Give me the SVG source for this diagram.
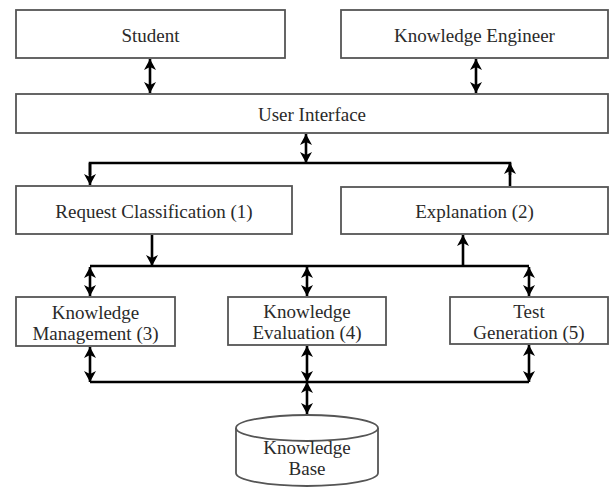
<svg xmlns="http://www.w3.org/2000/svg" width="613" height="487" viewBox="0 0 613 487">
<style>
.box{fill:#fff;stroke:#555;stroke-width:1.8}
.t{font-family:"Liberation Serif","Times New Roman","DejaVu Serif",serif;font-size:19px;fill:#2a2a2a;text-anchor:middle}
.c{fill:none;stroke:#000;stroke-width:2.6}
.a1{marker-end:url(#ah)}
.a2{marker-end:url(#ah);marker-start:url(#ah)}
</style>
<defs>
<marker id="ah" viewBox="0 0 11 12" refX="11" refY="6" markerWidth="11" markerHeight="12" markerUnits="userSpaceOnUse" orient="auto-start-reverse">
<path d="M0,0 L11,6 L0,12 L3,6 z" fill="#000"/>
</marker>
</defs>
<rect width="613" height="487" fill="#fff"/>
<g id="student"><rect class="box" x="16" y="10" width="269" height="48"/><text class="t" x="150.5" y="42">Student</text></g>
<g id="knowledge-engineer"><rect class="box" x="341" y="10" width="267" height="48"/><text class="t" x="474.5" y="42">Knowledge Engineer</text></g>
<g id="user-interface"><rect class="box" x="16" y="94" width="592" height="39"/><text class="t" x="312" y="121">User Interface</text></g>
<g id="request-classification"><rect class="box" x="16" y="186" width="276" height="48"/><text class="t" x="154" y="218">Request Classification (1)</text></g>
<g id="explanation"><rect class="box" x="341" y="187" width="267" height="47"/><text class="t" x="474.5" y="218">Explanation (2)</text></g>
<g id="knowledge-management"><rect class="box" x="16" y="297" width="159" height="49"/><text class="t" x="95.5" y="319">Knowledge</text><text class="t" x="95.5" y="340">Management (3)</text></g>
<g id="knowledge-evaluation"><rect class="box" x="228" y="297" width="158" height="48"/><text class="t" x="307" y="318">Knowledge</text><text class="t" x="307" y="339">Evaluation (4)</text></g>
<g id="test-generation"><rect class="box" x="450" y="297" width="158" height="47"/><text class="t" x="529" y="318">Test</text><text class="t" x="529" y="339">Generation (5)</text></g>
<g id="knowledge-base">
<path class="box" d="M236,428 L236,473 A71,13 0 0 0 378,473 L378,428"/>
<ellipse class="box" cx="307" cy="428" rx="71" ry="13"/>
<text class="t" x="307" y="454">Knowledge</text><text class="t" x="307" y="475">Base</text>
</g>
<g id="connectors">
<line class="c a2" x1="150" y1="59" x2="150" y2="93"/>
<line class="c a2" x1="476" y1="59" x2="476" y2="93"/>
<line class="c a2" x1="306" y1="134" x2="306" y2="163"/>
<polyline class="c" points="90,175 90,163 510,163 510,175"/>
<line class="c a1" x1="90" y1="163" x2="90" y2="185"/>
<line class="c a1" x1="510" y1="186" x2="510" y2="163"/>
<line class="c" x1="90" y1="266" x2="529" y2="266"/>
<line class="c a1" x1="152" y1="235" x2="152" y2="266"/>
<line class="c a1" x1="463" y1="266" x2="463" y2="235"/>
<line class="c a2" x1="90" y1="267" x2="90" y2="296"/>
<line class="c a2" x1="307" y1="267" x2="307" y2="296"/>
<line class="c a2" x1="529" y1="267" x2="529" y2="296"/>
<line class="c" x1="90" y1="382" x2="529" y2="382"/>
<line class="c a2" x1="90" y1="347" x2="90" y2="382"/>
<line class="c a2" x1="307" y1="346" x2="307" y2="382"/>
<line class="c a2" x1="529" y1="345" x2="529" y2="382"/>
<line class="c a2" x1="307" y1="382" x2="307" y2="414"/>
</g>
</svg>
